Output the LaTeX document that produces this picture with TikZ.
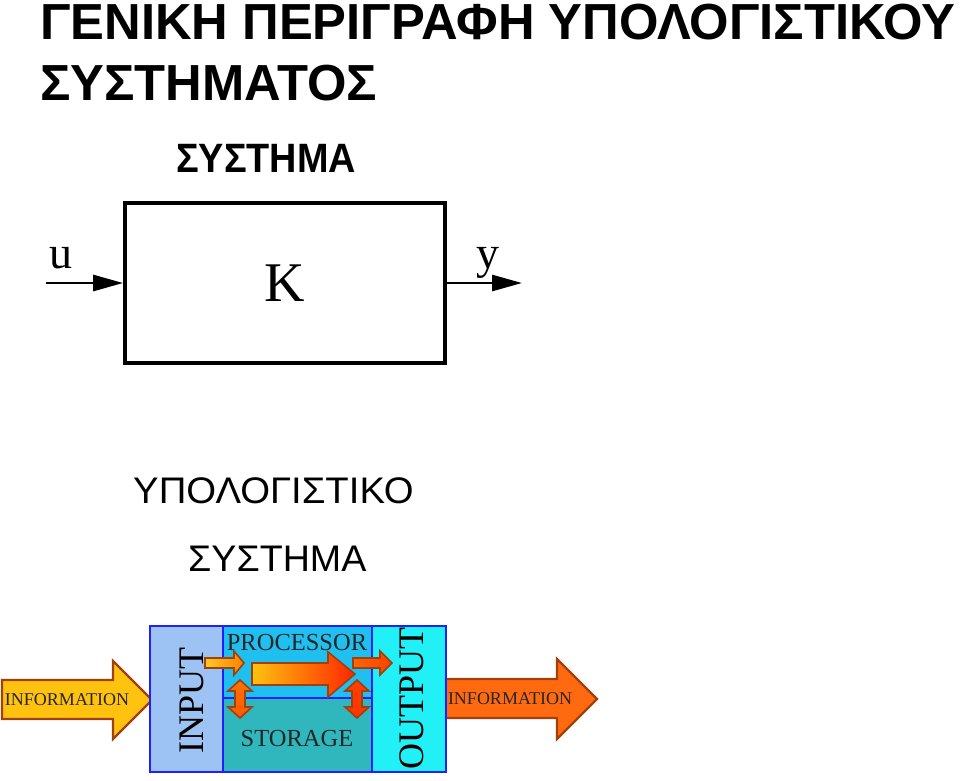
\documentclass[tikz,border=0pt]{standalone}
\usepackage{fontspec}
\setmainfont{Liberation Serif}
\newfontfamily\grsans{Liberation Sans}
\usetikzlibrary{arrows.meta}
\definecolor{inputcol}{HTML}{9DC3F5}
\definecolor{proccol}{HTML}{1FBFF0}
\definecolor{storcol}{HTML}{30B7BD}
\definecolor{outcol}{HTML}{22F0F7}
\definecolor{bordblue}{HTML}{1F1FFF}
\definecolor{abrown}{HTML}{A0400A}
\definecolor{agold}{HTML}{FFC20F}
\definecolor{aorange}{HTML}{FF6A10}
\tikzset{
  title/.style={font=\grsans\bfseries\fontsize{50.7}{56}\selectfont, inner sep=0pt, anchor=base west},
  subtitle/.style={font=\grsans\bfseries\fontsize{41}{48}\selectfont, inner sep=0pt, anchor=base west, xscale=0.923},
  plain/.style={font=\grsans\fontsize{37}{44}\selectfont, inner sep=0pt, anchor=base west, xscale=1.035},
  plainb/.style={font=\grsans\fontsize{37}{44}\selectfont, inner sep=0pt, anchor=base west, xscale=1.017},
  sysbox/.style={draw=black, line width=3.8pt, minimum width=320pt, minimum height=160pt, inner sep=0pt, font=\fontsize{56}{60}\selectfont},
  sig/.style={line width=2.8pt, -{Triangle[length=30pt,width=16pt]}},
  siglabel/.style={font=\fontsize{46}{50}\selectfont, inner sep=0pt, anchor=base},
  col/.style={draw=bordblue, line width=2.8pt, inner sep=0pt},
  rtext/.style={font=\fontsize{36}{40}\selectfont, inner sep=0pt, rotate=90, text=black},
  ptext/.style={font=\fontsize{24.5}{28}\selectfont, inner sep=0pt, text=black!85},
  infotext/.style={font=\fontsize{18}{20}\selectfont, inner sep=0pt, text=black!85},
  bigarrow/.style={draw=abrown, line width=2.2pt, line join=miter},
  smallarrow/.style={draw=abrown, line width=1.6pt, line join=miter}
}
\begin{document}
\begin{tikzpicture}[x=1pt,y=-1pt]
\useasboundingbox (0,0) rectangle (960,780);
% titles
\node[title] (t1) at (40,39) {ΓΕΝΙΚΗ ΠΕΡΙΓΡΑΦΗ ΥΠΟΛΟΓΙΣΤΙΚΟΥ};
\node[title] (t2) at (40,100) {ΣΥΣΤΗΜΑΤΟΣ};
\node[subtitle] (t3) at (176,172) {ΣΥΣΤΗΜΑ};
% system block
\node[sysbox] (sys) at (285,283) {K};
\coordinate (uin) at (46,283);
\coordinate (yout) at (522,283);
\draw[sig] (uin) -- (sys.west);
\draw[sig] (sys.east) -- (yout);
\node[siglabel] (ulab) at (61,268) {u};
\node[siglabel] (ylab) at (488,268) {y};
% computer system titles
\node[plain] (t4) at (133,503) {ΥΠΟΛΟΓΙΣΤΙΚΟ};
\node[plainb] (t5) at (188,571) {ΣΥΣΤΗΜΑ};
% information arrows
\path[bigarrow, fill=agold] (2,680) -- (113,680) -- (113,661) -- (152,700) -- (113,739) -- (113,719) -- (2,719) -- cycle;
\path[bigarrow, fill=aorange] (445,679) -- (557,679) -- (557,659) -- (597,699) -- (557,739) -- (557,718) -- (445,718) -- cycle;
\node[infotext] (infoin) at (67,700) {INFORMATION};
\node[infotext] (infoout) at (510,699) {INFORMATION};
% columns
\node[col, fill=inputcol, minimum width=73pt, minimum height=146pt] (inp) at (186.5,699) {};
\node[col, fill=proccol, minimum width=149pt, minimum height=72pt] (proc) at (297.5,662) {};
\node[col, fill=storcol, minimum width=149pt, minimum height=74pt] (stor) at (297.5,735) {};
\node[col, fill=outcol, minimum width=74pt, minimum height=146pt] (outp) at (409,699) {};
\node[rtext] (inlab) at (192,700) {INPUT};
\node[rtext] (outlab) at (412,698) {OUTPUT};
\node[ptext] (plab) at (297,642) {PROCESSOR};
\node[ptext] (slab) at (297,738) {STORAGE};
% inner arrows
\path[smallarrow, left color=agold!90!white, right color=orange] (205,658) -- (234,658) -- (234,651) -- (244,663) -- (234,675) -- (234,668) -- (205,668) -- cycle;
\path[smallarrow, left color=agold, right color=red!70!orange] (252,663) -- (328,663) -- (328,652) -- (355,674) -- (328,697) -- (328,685) -- (252,685) -- cycle;
\path[smallarrow, left color=orange!80!red, right color=red!50!orange] (353,658) -- (380,658) -- (380,651) -- (392,663) -- (380,675) -- (380,668) -- (353,668) -- cycle;
\path[smallarrow, top color=orange!90!red, bottom color=orange!70!red] (240,680) -- (252,691) -- (245,691) -- (245,707) -- (252,707) -- (240,718) -- (228,707) -- (235,707) -- (235,691) -- (228,691) -- cycle;
\path[smallarrow, top color=red!50!orange, bottom color=red!60!orange] (357,680) -- (369,691) -- (362,691) -- (362,707) -- (369,707) -- (357,718) -- (345,707) -- (352,707) -- (352,691) -- (345,691) -- cycle;
\end{tikzpicture}
\end{document}
